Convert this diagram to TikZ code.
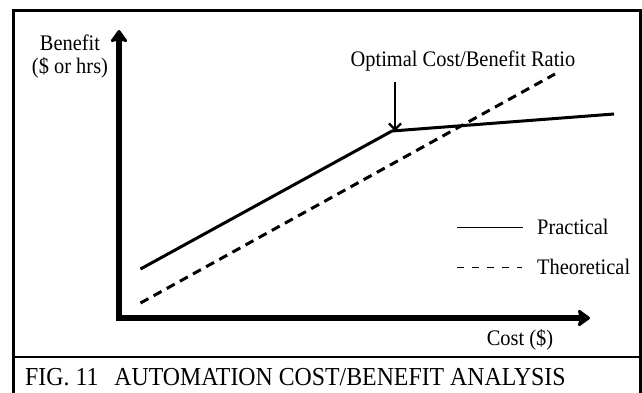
\documentclass[tikz,border=0pt]{standalone}
\usepackage{fontspec}
\setmainfont[FakeStretch=0.92]{Liberation Serif}
\usetikzlibrary{arrows.meta}
\begin{document}
\begin{tikzpicture}[x=1pt,y=-1pt,
  lbl/.style={font=\fontsize{22.2}{23}\selectfont, inner sep=0pt},
  axis/.style={line width=5.5pt, -{Stealth[length=14pt,width=20pt,inset=3pt,round]}},
  prac/.style={line width=3pt, line join=round},
  theo/.style={line width=3pt, dash pattern=on 9pt off 6pt},
  legend/.style={line width=1pt}]
\useasboundingbox (0,0) rectangle (642,392);
\fill[white] (0,0) rectangle (642,392);
% frame
\draw[line width=2.5pt] (13.5,400) -- (13.5,10.5) -- (640.5,10.5) -- (640.5,400);
\draw[line width=2.5pt] (13.5,357) -- (640.5,357);
% axes
\coordinate (O) at (119,318);
\coordinate (Ytip) at (119,30);
\coordinate (Xtip) at (590,318);
\draw[axis] (O) -- (Ytip);
\draw[axis] (O) -- (Xtip);
\fill (O) ++(-2.75,-2.75) rectangle ++(5.5,5.5);
% practical
\coordinate (p1) at (140.5,269);
\coordinate (p2) at (392,131);
\coordinate (p3) at (614,114);
\draw[prac] (p1) -- (p2) -- (p3);
% theoretical
\coordinate (t1) at (140.5,303);
\coordinate (t2) at (555,74);
\draw[theo] (t1) -- (t2);
% labels
\node[lbl, align=center] (ylab) at (70,57) {Benefit\\(\$ or hrs)};
\node[lbl] (xlab) at (520,340) {Cost (\$)};
\node[lbl] (opt) at (463,61) {Optimal Cost/Benefit Ratio};
\coordinate (arrs) at (395,82);
\draw[line width=2.5pt, -{Straight Barb[length=6pt,width=12pt,line width=2.2pt]}] (arrs) -- (p2 -| arrs);
% legend
\node[lbl, anchor=west] (lp) at (537,227) {Practical};
\node[lbl, anchor=west] (lt) at (537,267) {Theoretical};
\coordinate (lp0) at (457,227);
\coordinate (lt0) at (457,267);
\draw[legend] (lp0) -- (lp.west -| 523,0);
\draw[legend, dash pattern=on 7pt off 8pt] (lt0) -- (lt.west -| 522,0);
% caption
\node[font=\fontsize{25.9}{27}\selectfont, inner sep=0pt, anchor=west] (cap) at (25,377) {FIG. 11\hspace{16pt}AUTOMATION COST/BENEFIT ANALYSIS};
\end{tikzpicture}
\end{document}
